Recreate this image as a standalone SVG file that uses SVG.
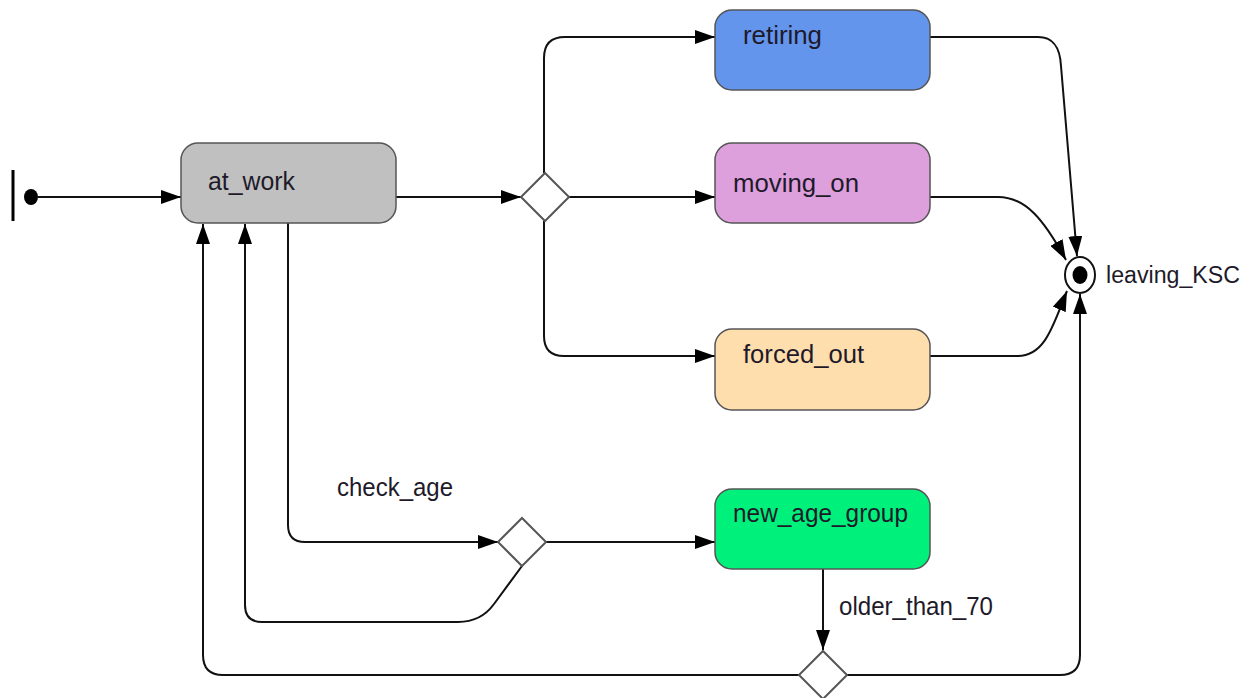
<svg xmlns="http://www.w3.org/2000/svg" width="1252" height="698" viewBox="0 0 1252 698">
<defs>
<style>
.box{stroke:#555;stroke-width:1.5}
.dia{fill:#fff;stroke:#555;stroke-width:2}
.lbl{font-family:"Liberation Sans",Arial,sans-serif;font-size:26.5px;fill:#1e1a2a}
.con{fill:none;stroke:#111;stroke-width:2}
</style>
<marker id="arr" viewBox="0 0 20 14" refX="20" refY="7" markerWidth="20" markerHeight="14" markerUnits="userSpaceOnUse" orient="auto">
<path d="M0,0 L20,7 L0,14 Z" fill="#000"/>
</marker>
</defs>
<rect width="1252" height="698" fill="#fff"/>
<g id="connectors">
<path class="con" d="M38,197 H181" marker-end="url(#arr)"/>
<path class="con" d="M396,197 H521" marker-end="url(#arr)"/>
<path class="con" d="M544,173 V58 Q544,37 565,37 H715" marker-end="url(#arr)"/>
<path class="con" d="M569,197 H715" marker-end="url(#arr)"/>
<path class="con" d="M544,221 V336 Q544,356 564,356 H715" marker-end="url(#arr)"/>
<path class="con" d="M930,37 H1038 C1054,37 1060,48 1061,66 L1077,256" marker-end="url(#arr)"/>
<path class="con" d="M930,197 H998 C1026,197 1044,220 1066,260" marker-end="url(#arr)"/>
<path class="con" d="M930,356 H1018 C1046,356 1054,322 1067,291" marker-end="url(#arr)"/>
<path class="con" d="M846,675 H1060 Q1080,675 1080,655 V294" marker-end="url(#arr)"/>
<path class="con" d="M799,675 H223 Q203,675 203,655 V224" marker-end="url(#arr)"/>
<path class="con" d="M823,568 V650" marker-end="url(#arr)"/>
<path class="con" d="M288,223 V525 Q288,542 305,542 H498" marker-end="url(#arr)"/>
<path class="con" d="M546,542 H715" marker-end="url(#arr)"/>
<path class="con" d="M522,566 L494,604 Q481,622 458,622 H262 Q245,622 245,605 V224" marker-end="url(#arr)"/>
</g>
<g id="initial">
<rect x="11.5" y="170" width="3" height="51" fill="#000"/>
<ellipse cx="31" cy="197" rx="7" ry="8" fill="#000"/>
</g>
<g id="at_work">
<rect class="box" x="181" y="143" width="215" height="80" rx="17" fill="#c0c0c0"/>
<text class="lbl" x="208" y="190" textLength="87" lengthAdjust="spacingAndGlyphs">at_work</text>
</g>
<g id="decision1">
<path class="dia" d="M545,173 L569,197 L545,221 L521,197 Z"/>
</g>
<g id="retiring">
<rect class="box" x="715" y="10" width="215" height="80" rx="17" fill="#6495ed"/>
<text class="lbl" x="743" y="44" textLength="79" lengthAdjust="spacingAndGlyphs">retiring</text>
</g>
<g id="moving_on">
<rect class="box" x="715" y="143" width="215" height="80" rx="17" fill="#dda0dd"/>
<text class="lbl" x="733" y="192" textLength="126" lengthAdjust="spacingAndGlyphs">moving_on</text>
</g>
<g id="forced_out">
<rect class="box" x="715" y="329" width="215" height="81" rx="17" fill="#ffdead"/>
<text class="lbl" x="743" y="363" textLength="121" lengthAdjust="spacingAndGlyphs">forced_out</text>
</g>
<g id="new_age_group">
<rect class="box" x="715" y="489" width="215" height="80" rx="17" fill="#00f07c"/>
<text class="lbl" x="733" y="522" textLength="175" lengthAdjust="spacingAndGlyphs">new_age_group</text>
</g>
<g id="decision2">
<path class="dia" d="M522,518 L546,542 L522,566 L498,542 Z"/>
</g>
<g id="decision3">
<path class="dia" d="M823,651 L847,675 L823,699 L799,675 Z"/>
</g>
<g id="leaving_KSC">
<ellipse cx="1080" cy="275" rx="15" ry="18" fill="#fff" stroke="#111" stroke-width="2"/>
<ellipse cx="1080" cy="275" rx="7.5" ry="9" fill="#000"/>
<text class="lbl" x="1106" y="283" style="font-size:23.5px" textLength="134" lengthAdjust="spacingAndGlyphs">leaving_KSC</text>
</g>
<g id="labels">
<text class="lbl" x="337" y="496" textLength="116" lengthAdjust="spacingAndGlyphs">check_age</text>
<text class="lbl" x="839" y="615" textLength="154" lengthAdjust="spacingAndGlyphs">older_than_70</text>
</g>
</svg>
